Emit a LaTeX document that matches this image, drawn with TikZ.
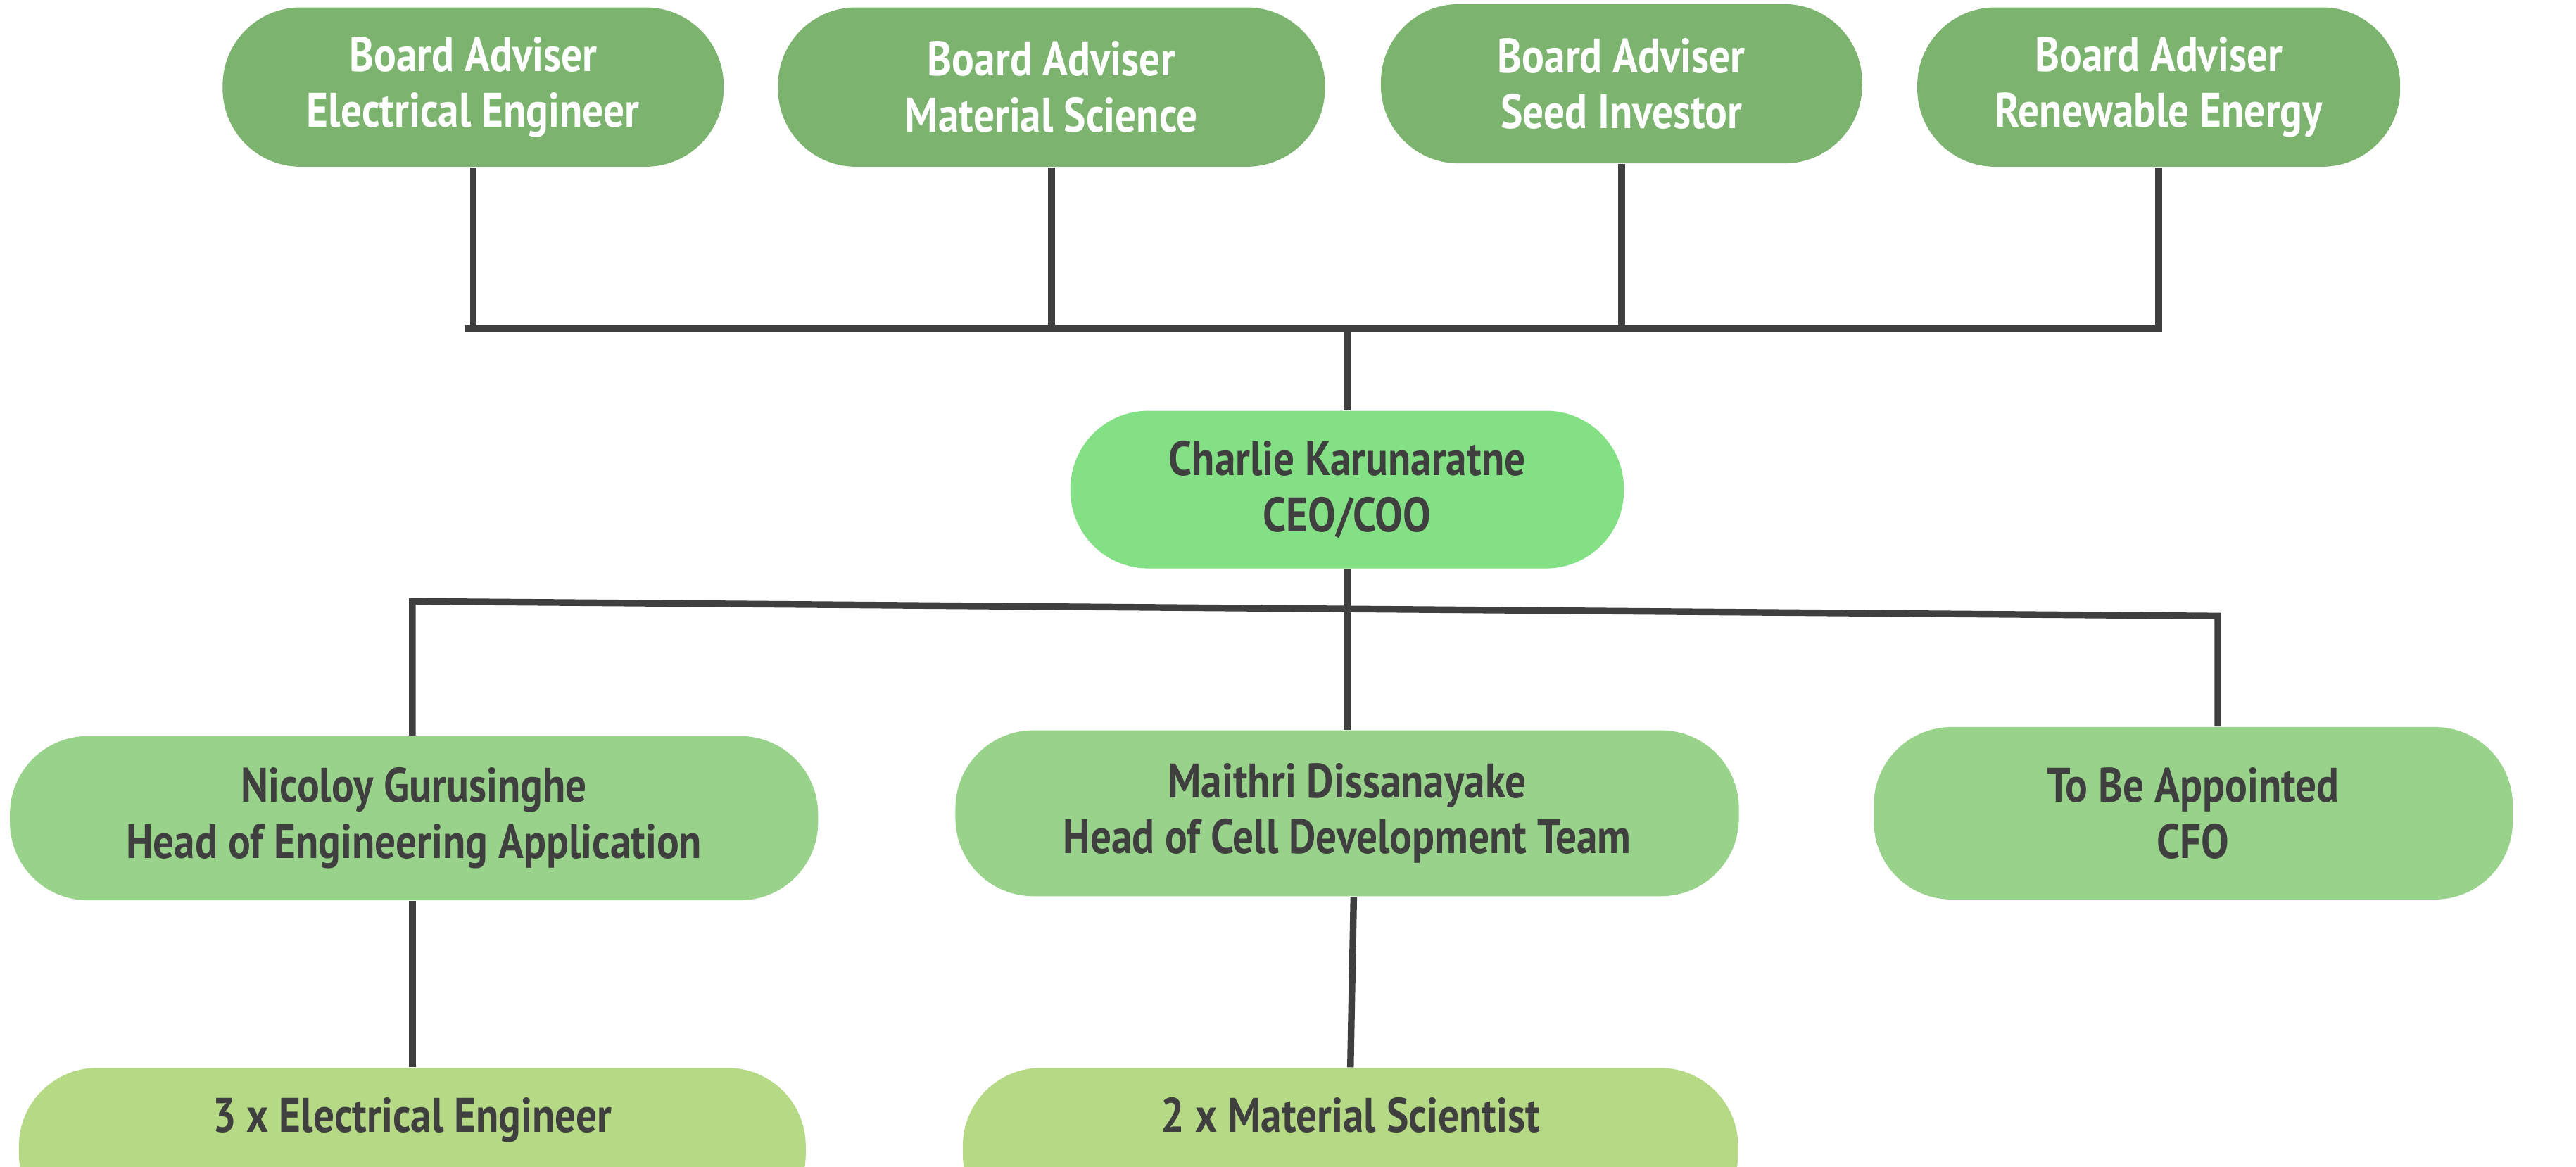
\documentclass[tikz,border=0pt]{standalone}
\usepackage{fontspec}
\setmainfont{PT Sans}[FakeStretch=0.86]
\usetikzlibrary{calc}
\definecolor{advgreen}{HTML}{7CB46F}
\definecolor{ceogreen}{HTML}{84E084}
\definecolor{headgreen}{HTML}{99D28A}
\definecolor{staffgreen}{HTML}{B5D985}
\definecolor{inkgrey}{HTML}{3F3F3F}
\tikzset{
  pill/.style={rounded corners=0.95cm, inner sep=0pt, align=center,
    font=\bfseries\fontsize{16.8}{19.4}\selectfont, text=inkgrey},
  link/.style={line width=2.3pt, color=inkgrey}
}

\begin{document}
\begin{tikzpicture}[x=0.02cm, y=-0.02cm]
		%%%%% START %%%%%
		\useasboundingbox (0,0) rectangle (1568,710);
		
		% board advisers
		\node[pill, fill=advgreen, text=white, minimum width=6.1cm, minimum height=1.94cm] (adv1) at (288,53) {Board Adviser\\Electrical Engineer};
		\node[pill, fill=advgreen, text=white, minimum width=6.66cm, minimum height=1.94cm] (adv2) at (640,53) {Board Adviser\\Material Science};
		\node[pill, fill=advgreen, text=white, minimum width=5.86cm, minimum height=1.94cm] (adv3) at (987,51) {Board Adviser\\Seed Investor};
		\node[pill, fill=advgreen, text=white, minimum width=5.88cm, minimum height=1.94cm] (adv4) at (1314,53) {Board Adviser\\Renewable Energy};
		
		% ceo
		\node[pill, fill=ceogreen, minimum width=6.74cm, minimum height=1.92cm] (ceo) at (820,298) {Charlie Karunaratne\\CEO/COO};
		
		% heads
		\node[pill, fill=headgreen, minimum width=9.84cm, minimum height=2cm] (engapp) at (252,498) {Nicoloy Gurusinghe\\Head of Engineering Application};
		\node[pill, fill=headgreen, minimum width=9.54cm, minimum height=2.02cm] (celldev) at (820,495) {Maithri Dissanayake\\Head of Cell Development Team};
		\node[pill, fill=headgreen, minimum width=7.78cm, minimum height=2.1cm] (cfo) at (1335,495) {To Be Appointed\\CFO};
		
		% staff
		\node[pill, fill=staffgreen, minimum width=9.58cm, minimum height=2cm, text height=0.42cm, text depth=0.85cm] (eleng) at (251,700) {3 x Electrical Engineer};
		\node[pill, fill=staffgreen, minimum width=9.44cm, minimum height=2cm, text height=0.42cm, text depth=0.85cm] (matsci) at (822,700) {2 x Material Scientist};
		
		% board bar
		\coordinate (boardbarl) at (283,200);
		\coordinate (boardbarr) at (1316,200);
		\draw[link] (boardbarl) -- (boardbarr);
		\draw[link] (adv1.south) -- (adv1.south |- boardbarl);
		\draw[link] (adv2.south) -- (adv2.south |- boardbarl);
		\draw[link] (adv3.south) -- (adv3.south |- boardbarl);
		\draw[link] (adv4.south) -- (adv4.south |- boardbarl);
		\draw[link] (ceo.north) -- (ceo.north |- boardbarl);
		
		% staff bar
		\coordinate (headbarl) at (251,366);
		\coordinate (headbarr) at (1350,375);
		\draw[link] (engapp.north -| headbarl) -- (headbarl) -- (headbarr) -- (headbarr |- cfo.north);
		\draw[link] (ceo.south) -- (celldev.north);
		
		\draw[link] (engapp.south -| eleng.north) -- (eleng.north);
		\draw[link] (celldev.south) ++(4,0) -- (matsci.north);
		
		%%%%% END %%%%%
	\end{tikzpicture}
\end{document}
